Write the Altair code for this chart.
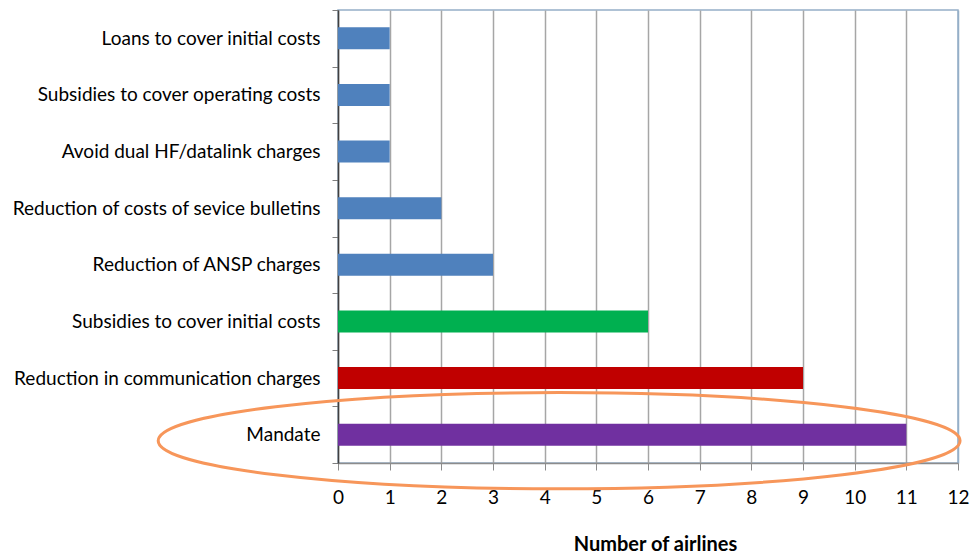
import altair as alt
import pandas as pd

# Reasons cited by airlines, bottom-to-top order as drawn
reasons = [
    "Loans to cover initial costs",
    "Subsidies to cover operating costs",
    "Avoid dual HF/datalink charges",
    "Reduction of costs of sevice bulletins",
    "Reduction of ANSP charges",
    "Subsidies to cover initial costs",
    "Reduction in communication charges",
    "Mandate",
]
airlines = [1, 1, 1, 2, 3, 6, 9, 11]
colors = ["#4F81BD", "#4F81BD", "#4F81BD", "#4F81BD", "#4F81BD",
          "#00B050", "#C00000", "#7030A0"]

df = pd.DataFrame({"reason": reasons, "airlines": airlines, "color": colors})

FONT = "Lato"
x_ticks = list(range(0, 13))

x_enc = alt.X(
    "airlines:Q",
    scale=alt.Scale(domain=[0, 12], nice=False),
    axis=alt.Axis(
        values=x_ticks,
        title="Number of airlines",
        titleFont=FONT,
        titleFontSize=20,
        titleFontWeight="bold",
        titleColor="black",
        titlePadding=27,
        titleX=317,
        titleAlign="center",
        labelFont=FONT,
        labelFontSize=19,
        labelColor="black",
        labelPadding=18,
        labelFlush=False,
        tickSize=7,
        tickColor="#8C8C8C",
        domainColor="#8C8C8C",
        domainWidth=1.5,
        grid=True,
        gridColor=alt.condition(
            alt.datum.value == 12, alt.value("#95AFC8"), alt.value("#A6A6A6")
        ),
        gridWidth=1.5,
    ),
)

y_enc = alt.Y(
    "reason:N",
    sort=reasons,
    scale=alt.Scale(paddingInner=0, paddingOuter=0),
    axis=alt.Axis(
        title=None,
        labelFont=FONT,
        labelFontSize=19,
        labelColor="black",
        labelPadding=12,
        labelLimit=400,
        tickBand="extent",
        tickSize=6,
        tickColor="#7F7F7F",
        domainColor="#404040",
        domainWidth=1.5,
    ),
)

bars = alt.Chart(df).mark_bar(size=22).encode(
    x=x_enc,
    y=y_enc,
    color=alt.Color("color:N", scale=None),
)

# Highlight ring around the "Mandate" bar
ring = pd.DataFrame({"reason": ["Mandate"], "airlines": [4.28]})
ellipse = alt.Chart(ring).mark_point(
    shape="M-1,0 A1,0.12 0 1,1 1,0 A1,0.12 0 1,1 -1,0 Z",
    size=643000,
    filled=False,
    stroke="#F7965A",
    strokeWidth=3,
    opacity=1,
    yOffset=6,
).encode(
    x=alt.X("airlines:Q"),
    y=alt.Y("reason:N", sort=reasons),
)

chart = (
    alt.layer(bars, ellipse)
    .properties(
        width=620,
        height=453,
        autosize=alt.AutoSizeParams(type="none"),
        padding={"left": 338, "top": 10, "right": 14, "bottom": 94},
        background="white",
    )
    .configure_view(stroke="#95AFC8", strokeWidth=1.5)
)

chart.save("out.html", embed_options={"renderer": "svg", "actions": False})
